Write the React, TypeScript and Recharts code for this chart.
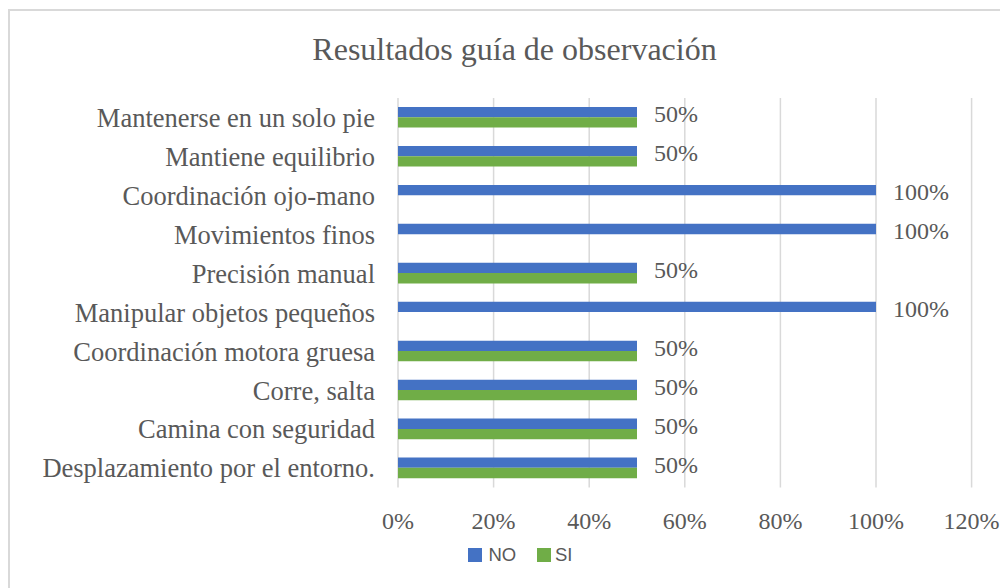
import React from 'react';
import { BarChart, Bar, XAxis, YAxis, CartesianGrid, LabelList } from 'recharts';

const categories = [
  'Mantenerse en un solo pie',
  'Mantiene equilibrio',
  'Coordinación ojo-mano',
  'Movimientos finos ',
  'Precisión manual',
  'Manipular objetos pequeños',
  'Coordinación motora gruesa',
  'Corre, salta',
  'Camina con seguridad',
  'Desplazamiento por el entorno.',
];
const noValues = [0.5, 0.5, 1, 1, 0.5, 1, 0.5, 0.5, 0.5, 0.5];
const siValues = [0.5, 0.5, 0, 0, 0.5, 0, 0.5, 0.5, 0.5, 0.5];
const xTicks = [0, 0.2, 0.4, 0.6, 0.8, 1, 1.2];
const title = 'Resultados guía de observación';
const seriesNames = ['NO', 'SI'];
const colors = ['#4472C4', '#70AD47'];

const data = categories.map((name, i) => ({ name, NO: noValues[i], SI: siValues[i] }));

const pct = (v: number) => `${Math.round(v * 100)}%`;
const serif = '"Liberation Serif", "Times New Roman", serif';
const textColor = '#595959';

const ValueLabel = (props: any) => {
  const { x, y, width, height, value } = props;
  return (
    <text
      x={Number(x) + Number(width) + 17}
      y={Number(y) + Number(height) / 2 + 10}
      fill={textColor}
      fontSize={24}
      fontFamily={serif}
      textAnchor="start"
    >
      {pct(Number(value))}
    </text>
  );
};

export default function App() {
  return (
    <div
      style={{
        position: 'relative',
        width: 1000,
        height: 580,
        borderLeft: '2px solid #d9d9d9',
        borderTop: '2px solid #d9d9d9',
        boxSizing: 'border-box',
        background: '#fff',
        marginTop: 1,
      }}
    >
      <div
        style={{
          position: 'absolute',
          left: 0,
          width: 1009,
          top: 22,
          textAlign: 'center',
          fontFamily: serif,
          fontSize: 32,
          lineHeight: '32px',
          color: textColor,
          whiteSpace: 'nowrap',
        }}
      >
        {title}
      </div>
      <BarChart
        width={998}
        height={577}
        data={data}
        layout="vertical"
        margin={{ top: 87, right: 36.4, left: 0, bottom: 70.5 }}
        barGap={0}
        barSize={10.3}
      >
        <CartesianGrid horizontal={false} stroke="#d9d9d9" strokeWidth={1.5} />
        <XAxis
          type="number"
          domain={[0, 1.2]}
          ticks={xTicks}
          tickFormatter={pct}
          axisLine={false}
          tickLine={false}
          tickMargin={18.5}
          height={30}
          interval={0}
          tick={{ fill: textColor, fontSize: 24, fontFamily: serif }}
        />
        <YAxis
          type="category"
          dataKey="name"
          width={388}
          axisLine={false}
          tickLine={false}
          tickMargin={17}
          interval={0}
          tick={{ fill: textColor, fontSize: 26.5, fontFamily: serif }}
        />
        <Bar dataKey="NO" fill={colors[0]} isAnimationActive={false}>
          <LabelList dataKey="NO" content={ValueLabel} />
        </Bar>
        <Bar dataKey="SI" fill={colors[1]} isAnimationActive={false} />
      </BarChart>
      {seriesNames.map((s, i) => (
        <React.Fragment key={s}>
          <div
            style={{
              position: 'absolute',
              left: i === 0 ? 458 : 527,
              top: 537,
              width: 13.5,
              height: 13.5,
              background: colors[i],
            }}
          />
          <div
            style={{
              position: 'absolute',
              left: i === 0 ? 478.5 : 545,
              top: 533,
              fontFamily: '"Liberation Sans", Arial, sans-serif',
              fontSize: 18.5,
              lineHeight: '22px',
              color: textColor,
            }}
          >
            {s}
          </div>
        </React.Fragment>
      ))}
    </div>
  );
}
